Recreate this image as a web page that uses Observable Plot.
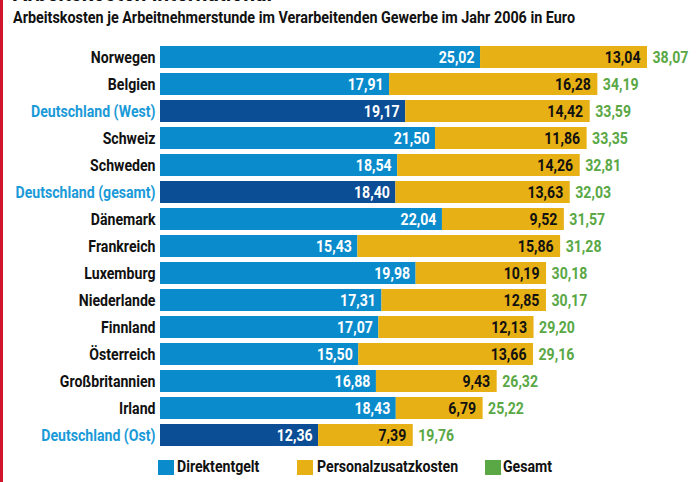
<!DOCTYPE html>
<html><head><meta charset="utf-8">
<script src="https://cdn.jsdelivr.net/npm/d3@7"></script>
<script src="https://cdn.jsdelivr.net/npm/@observablehq/plot@0.6"></script>
<style>
body{margin:0;background:#fff;}
#wrap{position:relative;width:697px;height:482px;overflow:hidden;font-family:Roboto,sans-serif;font-weight:bold;}
#redline{position:absolute;left:0;top:0;width:3px;height:482px;background:#d0142c;}
#title{position:absolute;left:13px;top:-23px;font-size:26px;line-height:30px;color:#111;white-space:nowrap;transform-origin:0 0;}
#subtitle{position:absolute;left:13px;top:8px;font-size:16px;color:#111;white-space:nowrap;transform-origin:0 0;}
#chart{position:absolute;left:0;top:0;}
#legend{position:absolute;left:0;top:459px;font-size:16px;color:#111;white-space:nowrap;}
.sw{position:absolute;top:1px;width:16px;height:15px;}
.lt{position:absolute;top:-2px;transform-origin:0 0;}
</style></head><body>
<div id="wrap">
<div id="redline"></div>
<div id="title">Arbeitskosten international</div>
<div id="subtitle">Arbeitskosten je Arbeitnehmerstunde im Verarbeitenden Gewerbe im Jahr 2006 in Euro</div>
<div id="chart"></div>
<div id="legend"></div>
</div>
<script>
const laender = ["Norwegen","Belgien","Deutschland (West)","Schweiz","Schweden","Deutschland (gesamt)","Dänemark","Frankreich","Luxemburg","Niederlande","Finnland","Österreich","Großbritannien","Irland","Deutschland (Ost)"];
const direktentgelt = [25.02,17.91,19.17,21.50,18.54,18.40,22.04,15.43,19.98,17.31,17.07,15.50,16.88,18.43,12.36];
const personalzusatzkosten = [13.04,16.28,14.42,11.86,14.26,13.63,9.52,15.86,10.19,12.85,12.13,13.66,9.43,6.79,7.39];
const gesamt = [38.07,34.19,33.59,33.35,32.81,32.03,31.57,31.28,30.18,30.17,29.20,29.16,26.32,25.22,19.76];
const legendLabels = ["Direktentgelt","Personalzusatzkosten","Gesamt"];

const cBlue = "#0a8bcc", cDark = "#0b4e96", cYellow = "#e7b014", cGreen = "#5aa845", cDE = "#1b9ad8";
const isDE = n => n.startsWith("Deutschland");
const fmt = v => v.toFixed(2).replace(".", ",");
const data = laender.map((l,i)=>({land:l, d:direktentgelt[i], p:personalzusatzkosten[i], g:gesamt[i]}));

const ctx = document.createElement("canvas").getContext("2d");
function widthOf(t, size){ ctx.font = `bold ${size}px Roboto`; return ctx.measureText(t).width; }
const sx = 140 / widthOf("Deutschland (gesamt)", 16);

const plot = Plot.plot({
  width: 697, height: 482,
  marginLeft: 160, marginRight: 50, marginTop: 42, marginBottom: 32,
  style: {fontFamily: "Roboto, sans-serif", fontWeight: "bold", fontSize: "16px", background: "transparent"},
  x: {domain: [0, d3.max(gesamt)], axis: null},
  y: {domain: laender, paddingInner: 0.2, paddingOuter: 0.1, axis: null},
  marks: [
    Plot.barX(data, {y: "land", x1: 0, x2: "d", fill: d => isDE(d.land) ? cDark : cBlue}),
    Plot.barX(data, {y: "land", x1: "d", x2: "g", fill: cYellow}),
    Plot.text(data, {y: "land", x: "d", text: d => fmt(d.d), textAnchor: "end", dx: -6, fill: "white", fontSize: 16}),
    Plot.text(data, {y: "land", x: "g", text: d => fmt(d.p), textAnchor: "end", dx: -7, fill: "#111", fontSize: 16}),
    Plot.text(data, {y: "land", x: "g", text: d => fmt(d.g), textAnchor: "start", dx: 5, fill: cGreen, fontSize: 16}),
    Plot.text(data, {y: "land", x: 0, text: "land", textAnchor: "end", dx: -5, fill: d => isDE(d.land) ? cDE : "#111", fontSize: 16})
  ]
});
plot.querySelectorAll("text").forEach(t => {
  t.setAttribute("transform", (t.getAttribute("transform") || "") + ` scale(${sx},1)`);
});
document.getElementById("chart").appendChild(plot);

const sub = document.getElementById("subtitle");
sub.style.transform = `scaleX(${562 / widthOf(sub.textContent, 16)})`;
const ttl = document.getElementById("title");
ttl.style.transform = `scaleX(${259 / widthOf(ttl.textContent, 26)})`;

const lg = document.getElementById("legend");
const lcols = [cBlue, cYellow, cGreen];
const sqx = [158, 297, 485];
const tx = [177, 317, 503];
legendLabels.forEach((t,i)=>{
  const s = document.createElement("div");
  s.className = "sw"; s.style.left = sqx[i] + "px"; s.style.background = lcols[i];
  lg.appendChild(s);
  const l = document.createElement("div");
  l.className = "lt"; l.style.left = tx[i] + "px"; l.textContent = t;
  l.style.transform = `scaleX(${sx})`;
  lg.appendChild(l);
});
</script>
</body></html>
